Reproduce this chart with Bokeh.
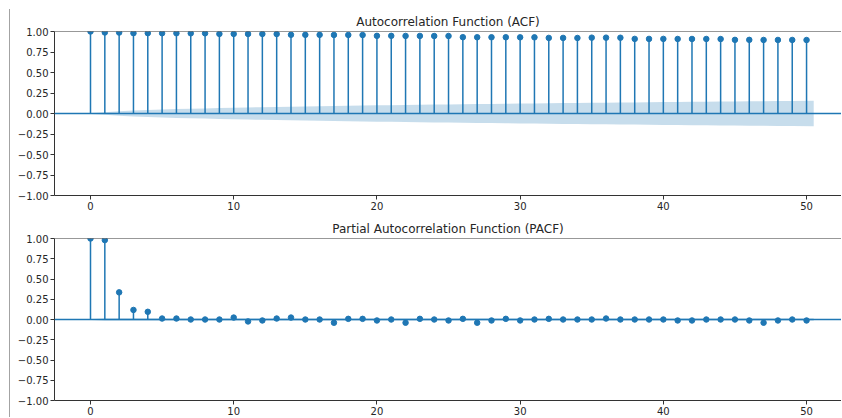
from bokeh.plotting import figure
from bokeh.models import Range1d, FixedTicker, Span
from bokeh.layouts import column
from bokeh.embed import file_html
from bokeh.resources import INLINE

# ---------------- data ----------------
lags = list(range(51))

acf_values = [1.000, 0.988, 0.987, 0.980, 0.980, 0.979, 0.979, 0.978, 0.978, 0.971,
              0.971, 0.970, 0.970, 0.969, 0.960, 0.959, 0.959, 0.958, 0.958, 0.957,
              0.947, 0.947, 0.946, 0.946, 0.945, 0.945, 0.931, 0.930, 0.930, 0.930,
              0.929, 0.929, 0.922, 0.922, 0.921, 0.925, 0.925, 0.924, 0.910, 0.910,
              0.910, 0.909, 0.909, 0.909, 0.908, 0.898, 0.898, 0.897, 0.897, 0.897,
              0.896]

acf_conf = [0.0, 0.016, 0.028, 0.036, 0.043, 0.049, 0.054, 0.058, 0.062, 0.066,
            0.070, 0.074, 0.077, 0.080, 0.083, 0.086, 0.089, 0.092, 0.095, 0.097,
            0.100, 0.102, 0.104, 0.107, 0.109, 0.111, 0.113, 0.115, 0.117, 0.119,
            0.121, 0.123, 0.125, 0.127, 0.129, 0.130, 0.132, 0.134, 0.135, 0.137,
            0.139, 0.140, 0.142, 0.143, 0.145, 0.147, 0.148, 0.149, 0.151, 0.152,
            0.154]

pacf_values = [1.000, 0.980, 0.335, 0.118, 0.095, 0.012, 0.012, 0.000, 0.000, 0.000,
               0.024, -0.024, -0.012, 0.012, 0.024, 0.000, 0.000, -0.040, 0.008, 0.008,
               -0.012, 0.000, -0.040, 0.008, 0.000, -0.012, 0.008, -0.040, -0.012, 0.008,
               -0.012, 0.000, 0.008, 0.000, 0.000, 0.000, 0.012, 0.000, 0.000, 0.000,
               0.000, -0.012, -0.012, 0.000, 0.000, 0.000, -0.012, -0.040, -0.012, 0.000,
               -0.012]

pacf_conf = [0.0, 0.016, 0.016, 0.016, 0.016, 0.016, 0.016, 0.016, 0.016, 0.016,
             0.016, 0.016, 0.016, 0.016, 0.016, 0.016, 0.016, 0.016, 0.016, 0.016,
             0.016, 0.016, 0.016, 0.016, 0.016, 0.016, 0.016, 0.016, 0.016, 0.016,
             0.016, 0.016, 0.016, 0.016, 0.016, 0.016, 0.016, 0.016, 0.016, 0.016,
             0.016, 0.016, 0.016, 0.016, 0.016, 0.016, 0.016, 0.016, 0.016, 0.016,
             0.016]

y_ticks = [-1.0, -0.75, -0.5, -0.25, 0.0, 0.25, 0.5, 0.75, 1.0]
y_tick_labels = ["\u22121.00", "\u22120.75", "\u22120.50", "\u22120.25", "0.00",
                 "0.25", "0.50", "0.75", "1.00"]
x_ticks = [0, 10, 20, 30, 40, 50]
titles = ["Autocorrelation Function (ACF)", "Partial Autocorrelation Function (PACF)"]

# ---------------- styling ----------------
BLUE = "#1f77b4"
AXIS = "#333333"
TEXT = "#262626"
FONT = "DejaVu Sans"


def make_panel(title, values, conf, height, top, bottom):
    band_x = [float(l) for l in lags]
    band_x[0] -= 0.5
    band_x[-1] += 0.5
    upper = list(conf)
    lower = [-c for c in conf]

    p = figure(width=831, height=height,
               x_range=Range1d(-2.514, 52.44), y_range=Range1d(-1.0, 1.0),
               output_backend="svg", toolbar_location=None,
               min_border_left=44, min_border_right=0,
               min_border_top=top, min_border_bottom=bottom,
               title=title)
    p.title.align = "center"
    p.title.offset = 4
    p.title.standoff = 5
    p.title.text_font = FONT
    p.title.text_font_size = "12px"
    p.title.text_font_style = "normal"
    p.title.text_color = TEXT

    p.outline_line_color = None
    p.xgrid.visible = False
    p.ygrid.visible = False
    p.background_fill_color = "white"
    p.border_fill_color = "white"

    p.segment(x0=lags, y0=[0] * len(lags), x1=lags, y1=values,
              line_color=BLUE, line_width=1.5)
    p.scatter(x=lags, y=values, size=5.5, fill_color=BLUE, line_color=BLUE)
    p.add_layout(Span(location=0, dimension="width", line_color=BLUE, line_width=1.3))
    p.varea(x=band_x, y1=lower, y2=upper, fill_color=BLUE, fill_alpha=0.25)
    p.add_layout(Span(location=1.0, dimension="width", line_color=AXIS, line_width=1))

    for ax in (p.xaxis[0], p.yaxis[0]):
        ax.axis_line_color = AXIS
        ax.major_tick_line_color = AXIS
        ax.minor_tick_line_color = None
        ax.major_tick_out = 4
        ax.major_tick_in = 0
        ax.major_label_standoff = 2
        ax.major_label_text_font = FONT
        ax.major_label_text_font_size = "10px"
        ax.major_label_text_color = TEXT
    p.xaxis.ticker = FixedTicker(ticks=x_ticks)
    p.yaxis.ticker = FixedTicker(ticks=y_ticks)
    p.yaxis.major_label_overrides = dict(zip(y_ticks, y_tick_labels))
    return p


p1 = make_panel(titles[0], acf_values, acf_conf, 208, 22, 22)
p2 = make_panel(titles[1], pacf_values, pacf_conf, 200, 21, 15)

layout = column(p1, p2, spacing=0,
                styles={"margin-left": "9px", "margin-top": "9px",
                        "border-left": "1px solid #a3a3a3"})

open("out.html", "w").write(file_html(layout, INLINE))
